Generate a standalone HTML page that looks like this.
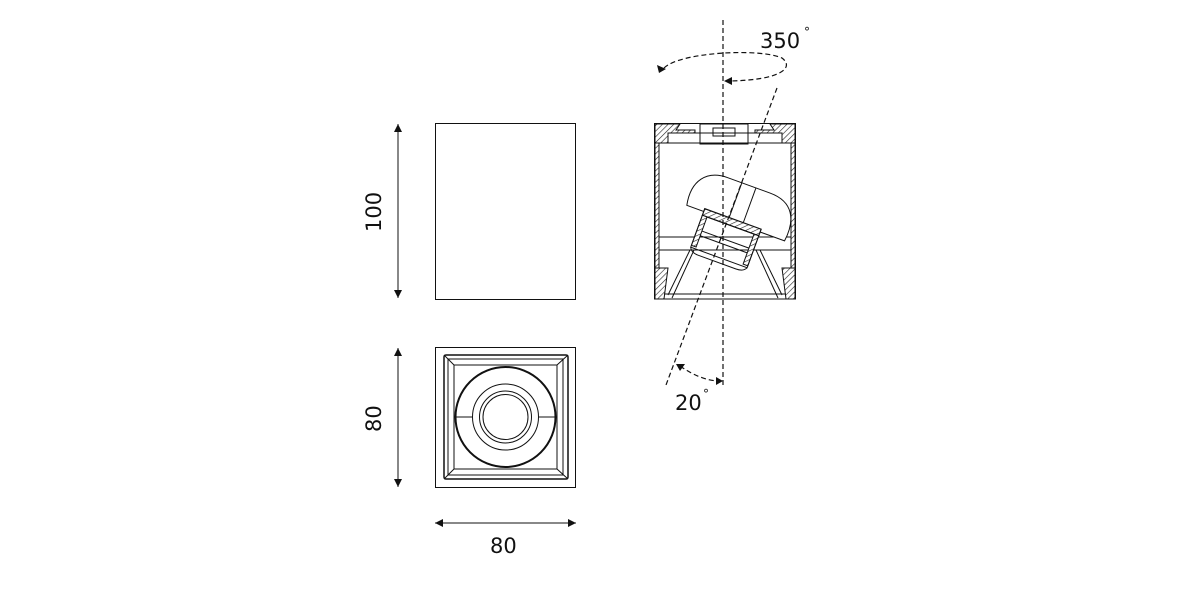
<!DOCTYPE html>
<html><head><meta charset="utf-8"><style>
html,body{margin:0;padding:0;background:#fff;}
svg{display:block;}
text{font-family:"DejaVu Sans","Liberation Sans",sans-serif;fill:#111;}
</style></head><body>
<svg width="1181" height="591" viewBox="0 0 1181 591" xmlns="http://www.w3.org/2000/svg">
<defs>
<pattern id="h" width="4" height="4" patternUnits="userSpaceOnUse" patternTransform="rotate(45)">
<rect width="4" height="4" fill="#fff"/><line x1="0" y1="0" x2="0" y2="4" stroke="#222" stroke-width="1.2"/>
</pattern>
<marker id="a" markerWidth="8" markerHeight="8" refX="8" refY="4" orient="auto-start-reverse" markerUnits="userSpaceOnUse"><path d="M0,0 L8,4 L0,8 z" fill="#111"/></marker>
</defs>
<g stroke="#111" fill="none" stroke-width="1">
<rect x="435.5" y="123.5" width="140" height="176"/>
<line x1="398" y1="124" x2="398" y2="298" marker-start="url(#a)" marker-end="url(#a)"/>
<rect x="435.5" y="347.5" width="140" height="140"/>
<rect x="444" y="355" width="124" height="124" rx="2" stroke-width="1.5"/>
<rect x="448" y="359" width="115" height="116"/>
<rect x="454" y="365" width="103" height="104"/>
<line x1="444" y1="355" x2="454" y2="365"/><line x1="568" y1="355" x2="557" y2="365"/>
<line x1="444" y1="479" x2="454" y2="469"/><line x1="568" y1="479" x2="557" y2="469"/>
<circle cx="505.5" cy="417" r="50" stroke-width="2"/>
<circle cx="505.5" cy="417" r="33"/>
<circle cx="505.5" cy="417" r="26"/>
<circle cx="505.5" cy="417" r="22.5"/>
<line x1="455" y1="417" x2="472" y2="417"/><line x1="539" y1="417" x2="556" y2="417"/>
<line x1="398" y1="348" x2="398" y2="487" marker-start="url(#a)" marker-end="url(#a)"/>
<line x1="435" y1="523" x2="576" y2="523" marker-start="url(#a)" marker-end="url(#a)"/>
<rect x="654.5" y="123.5" width="141" height="175.5"/>
<rect x="655" y="143" width="4" height="155" fill="url(#h)"/>
<rect x="791" y="143" width="4" height="155" fill="url(#h)"/>
<path d="M655,124 H680 L676,130 H695 V133 H668 V143 H655 Z" fill="url(#h)"/>
<path d="M795,124 H770 L774,130 H755 V133 H782 V143 H795 Z" fill="url(#h)"/>
<line x1="655" y1="143" x2="795" y2="143"/>
<line x1="668" y1="133" x2="782" y2="133"/>
<rect x="700" y="124" width="48" height="20"/>
<rect x="713" y="128" width="22" height="8"/>
<rect x="659" y="237" width="132" height="13"/>
<path d="M655,268 H668 L664,299 H655 Z" fill="url(#h)"/>
<path d="M795,268 H782 L786,299 H795 Z" fill="url(#h)"/>
<path d="M668,295 L690,250 M672,298 L694,250 M782,295 L760,250 M778,298 L756,250"/>
<line x1="664" y1="294" x2="786" y2="294"/>
<g transform="rotate(20 735 225)">
<path d="M683,223 C678,198 690,183 712,183 H757 C782,183 790,200 787,223 Z" fill="#fff"/>
<line x1="727" y1="183" x2="727" y2="223"/><line x1="742" y1="183" x2="742" y2="223"/>
<rect x="701" y="220" width="60" height="7" fill="url(#h)" stroke-width="1.2"/>
<path d="M701,227 V259 H706 V227 M761,227 V259 H756 V227" fill="url(#h)"/>
<rect x="701" y="227" width="60" height="34" fill="none"/>
<line x1="706" y1="242" x2="756" y2="242"/><line x1="706" y1="247" x2="756" y2="247"/>
<path d="M701,261 Q703,266 711,266 H751 Q759,266 761,261"/>
</g>
</g>
<g stroke="#111" fill="none" stroke-width="1.2" stroke-dasharray="5,3">
<line x1="723" y1="20" x2="723" y2="385"/>
<line x1="777" y1="88" x2="666" y2="385"/>
<path d="M664,68 C680,52 760,48 782,58 C795,68 780,80 730,81"/>
<path d="M680,366 Q700,380 718,381"/>
</g>
<path d="M657,65 L666,69 L659,73 Z" fill="#111"/>
<path d="M724,81 L732,77 L732,85 Z" fill="#111"/>
<path d="M676,364 L685,364 L680,371 Z" fill="#111"/>
<path d="M723,381 L716,377 L716,385 Z" fill="#111"/>
<g font-size="21">
<text x="760" y="48">350</text><text x="804" y="36" font-size="12">°</text>
<text x="675" y="410">20</text><text x="703" y="398" font-size="12">°</text>
<text x="490" y="553">80</text>
<text transform="translate(381,232) rotate(-90)">100</text>
<text transform="translate(381,432) rotate(-90)">80</text>
</g>
</svg>
</body></html>
